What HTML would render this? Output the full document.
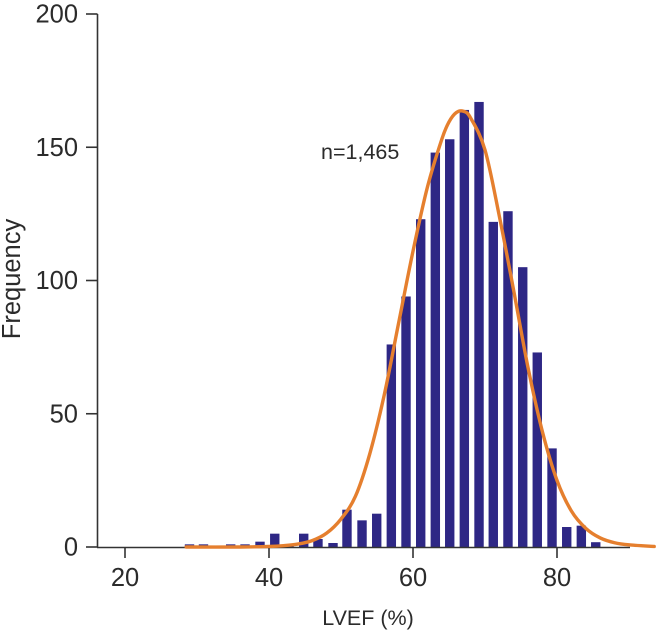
<!DOCTYPE html>
<html>
<head>
<meta charset="utf-8">
<title>LVEF histogram</title>
<style>
html,body{margin:0;padding:0;background:#fff;}
svg{display:block;}
text{font-family:"Liberation Sans",sans-serif;fill:#2b2b2b;}
</style>
</head>
<body>
<svg id="chart" width="657" height="632" viewBox="0 0 657 632" xmlns="http://www.w3.org/2000/svg"></svg>
<script>
const binCenters = [28.96,30.9,34.68,36.67,38.75,40.8,42.78,44.82,46.8,48.89,50.83,52.92,54.96,56.99,59.03,61.07,63.1,65.1,67.13,69.17,71.15,73.19,75.24,77.26,79.31,81.35,83.38,85.38];
const frequencies = [1,1,1,1,2,5,1,5,3,1.5,14,10,12.5,76,94,123,148,153,164,167,122,126,105,73,37,7.5,8,1.8];
const curveX = [28.5,36,40,42,44,46,48,50,52,54,56,58,60,62,64,65,66,67,68,70,72,74,76,78,80,82,84,86,88,90,93.5];
const curveY = [0,0,0.2,0.5,1.1,2.4,5.2,10.5,19,35,57,84,111,135,153,159.5,163,163.5,161,149,124,96,67,43,25,13.5,7,3.4,1.6,0.8,0.2];
const xTickValues = [20,40,60,80];
const yTickValues = [0,50,100,150,200];

const SVG_NS = 'http://www.w3.org/2000/svg';
const svg = document.getElementById('chart');
function xScale(v){ return 125 + (v - 20) * 7.2; }
function yScale(v){ return 547 - v * 2.665; }
function make(tag, attrs, parent){
  const el = document.createElementNS(SVG_NS, tag);
  for (const k in attrs) el.setAttribute(k, attrs[k]);
  (parent || svg).appendChild(el);
  return el;
}

// bars
const barsGroup = make('g', {});


binCenters.forEach(function(c, i){
  const top = yScale(frequencies[i]);
  const bar = make('rect', {x: xScale(c) - 4.7, y: top, width: 9.4, height: 547 - top, fill: '#2e2785'}, barsGroup);
  
  
});

// axes
const yAxis = make('line', {x1: 97.5, y1: yScale(200), x2: 97.5, y2: 547.5, stroke: '#333', 'stroke-width': 1.6});


const xAxis = make('line', {x1: 97, y1: 547.5, x2: 630, y2: 547.5, stroke: '#333', 'stroke-width': 1.6});



yTickValues.forEach(function(v){
  const y = yScale(v);
  const tick = make('line', {x1: 86, y1: y, x2: 97.5, y2: y, stroke: '#333', 'stroke-width': 1.6});
  
  
  const label = make('text', {x: 78, y: y + 8.5, 'text-anchor': 'end', 'font-size': 25.5});
  label.textContent = v;
  
  
});
xTickValues.forEach(function(v){
  const x = xScale(v);
  const tick = make('line', {x1: x, y1: 547, x2: x, y2: 558, stroke: '#333', 'stroke-width': 1.6});
  
  
  const label = make('text', {x: x, y: 586, 'text-anchor': 'middle', 'font-size': 25.5});
  label.textContent = v;
  
  
});

// fitted curve (Catmull-Rom through the points)
const pts = curveX.map(function(v, i){ return [xScale(v), yScale(curveY[i])]; });
let d = 'M' + pts[0][0] + ' ' + pts[0][1];
for (let i = 0; i < pts.length - 1; i++){
  const p0 = pts[Math.max(i - 1, 0)], p1 = pts[i], p2 = pts[i + 1], p3 = pts[Math.min(i + 2, pts.length - 1)];
  d += ' C' + (p1[0] + (p2[0] - p0[0]) / 6) + ' ' + (p1[1] + (p2[1] - p0[1]) / 6) + ' ' +
       (p2[0] - (p3[0] - p1[0]) / 6) + ' ' + (p2[1] - (p3[1] - p1[1]) / 6) + ' ' + p2[0] + ' ' + p2[1];
}
const curve = make('path', {d: d, fill: 'none', stroke: '#e57f2e', 'stroke-width': 3.4, 'stroke-linecap': 'round'});



// titles and annotation
const xTitle = make('text', {x: 368, y: 625, 'text-anchor': 'middle', 'font-size': 21.5});
xTitle.textContent = 'LVEF (%)';


const yTitle = make('text', {transform: 'translate(20,279) rotate(-90)', 'text-anchor': 'middle', 'font-size': 25.5});
yTitle.textContent = 'Frequency';


const note = make('text', {x: 321, y: 159, 'font-size': 21.5});
note.textContent = 'n=1,465';


</script>
</body>
</html>
